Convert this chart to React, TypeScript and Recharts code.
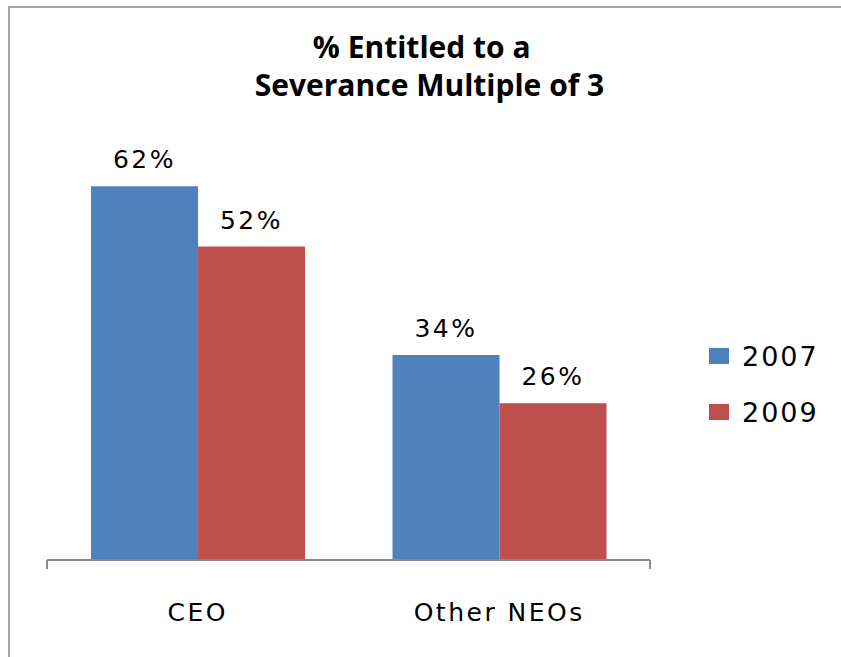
import { BarChart, Bar, XAxis, YAxis, LabelList } from "recharts";

const categories = ["CEO", "Other NEOs"];
const values2007 = [62, 34];
const values2009 = [52, 26];
const seriesNames = ["2007", "2009"];
// category boundaries for the tick marks (0 = left edge, 2 = right edge)
const boundaryTicks = [0, 1, 2];

const data = categories.map((name, i) => ({
  name,
  y2007: values2007[i],
  y2009: values2009[i],
}));

const BLUE = "#4F81BD";
const RED = "#C0504D";
const AXIS = "#898989";
const FONT = "'DejaVu Sans', sans-serif";

const pct = (v: unknown) => `${v}%`;
const labelStyle = { fill: "#000", fontSize: 25, fontFamily: FONT, letterSpacing: 2.5 };

export default function App() {
  return (
    <div
      style={{
        position: "absolute",
        left: 0,
        top: 0,
        width: 841,
        height: 657,
        background: "#fff",
        overflow: "hidden",
      }}
    >
      <div
        style={{
          position: "absolute",
          left: 8,
          top: 6,
          width: 833,
          height: 651,
          borderTop: "2px solid #a6a6a6",
          borderLeft: "2px solid #a6a6a6",
        }}
      />
      <div
        style={{
          position: "absolute",
          left: 0,
          top: 28,
          width: 859,
          textAlign: "center",
          fontFamily: "'Open Sans', sans-serif",
          fontWeight: 700,
          fontSize: 30,
          lineHeight: "38px",
          color: "#000",
          whiteSpace: "pre",
        }}
      >
        {"% Entitled to a\u00a0\u00a0"}
        <br />
        Severance Multiple of 3
      </div>
      <BarChart
        width={841}
        height={657}
        data={data}
        margin={{ top: 138, right: 191, bottom: 0, left: 47 }}
        barCategoryGap="14.6%"
        barGap={0}
        style={{ position: "absolute", left: 0, top: 0 }}
      >
        <XAxis
          xAxisId={0}
          type="number"
          domain={[0, 2]}
          ticks={boundaryTicks}
          height={9}
          axisLine={{ stroke: AXIS, strokeWidth: 2 }}
          tickLine={{ stroke: AXIS, strokeWidth: 2 }}
          tickSize={9}
          tickFormatter={() => ""}
        />
        <XAxis
          xAxisId={1}
          dataKey="name"
          height={88}
          axisLine={false}
          tickLine={false}
          tickMargin={28}
          interval={0}
          tick={labelStyle}
        />
        <YAxis hide domain={[0, 70]} />
        <Bar
          xAxisId={1}
          dataKey="y2007"
          name={seriesNames[0]}
          fill={BLUE}
          isAnimationActive={false}
        >
          <LabelList dataKey="y2007" position="top" offset={18} formatter={pct} style={labelStyle} />
        </Bar>
        <Bar
          xAxisId={1}
          dataKey="y2009"
          name={seriesNames[1]}
          fill={RED}
          isAnimationActive={false}
        >
          <LabelList dataKey="y2009" position="top" offset={18} formatter={pct} style={labelStyle} />
        </Bar>
      </BarChart>
      {seriesNames.map((s, i) => (
        <div
          key={s}
          style={{
            position: "absolute",
            left: 709,
            top: 340 + i * 56,
            height: 32,
            display: "flex",
            alignItems: "center",
            fontFamily: FONT,
            fontSize: 27,
            letterSpacing: 2,
            color: "#000",
          }}
        >
          <span
            style={{
              display: "inline-block",
              width: 20,
              height: 16,
              background: i === 0 ? BLUE : RED,
              marginRight: 13,
            }}
          />
          {s}
        </div>
      ))}
    </div>
  );
}
